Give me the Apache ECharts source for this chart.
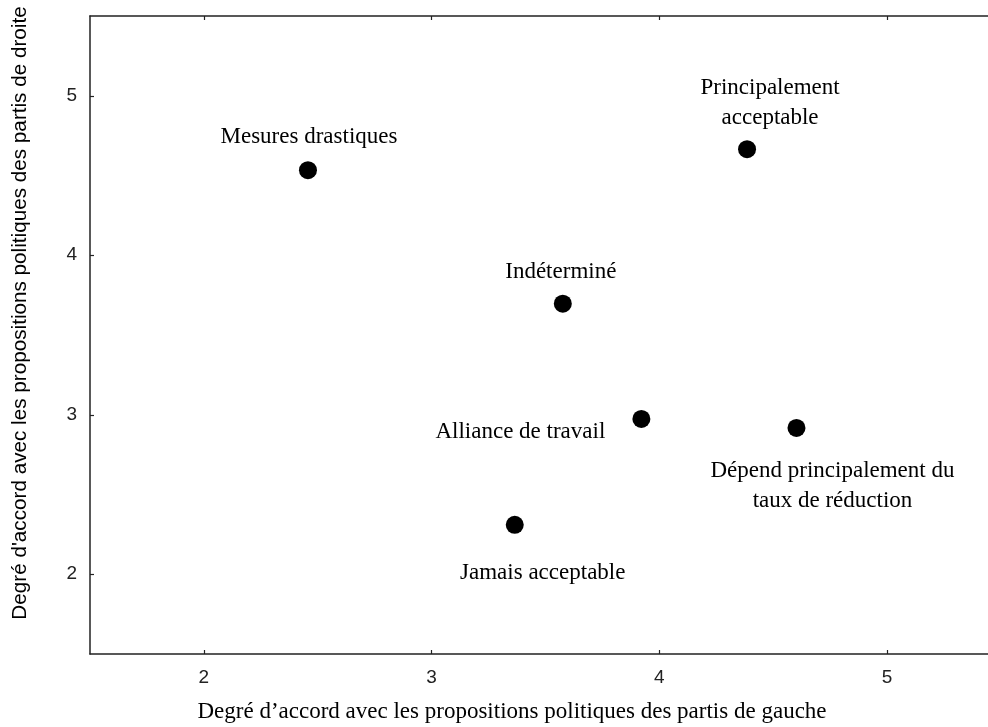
<!DOCTYPE html>
<html>
<head>
<meta charset="utf-8">
<script src="https://cdn.jsdelivr.net/npm/echarts@6/dist/echarts.min.js"></script>
<style>
html,body{margin:0;padding:0;background:#fff;}
#chart{width:988px;height:727px;}
</style>
</head>
<body>
<div id="chart"></div>
<script>
// ---- data ----
const pointNames = ["Mesures drastiques", "Principalement\nacceptable", "Indéterminé", "Alliance de travail", "Dépend principalement du\ntaux de réduction", "Jamais acceptable"];
const xValues = [2.457, 4.385, 3.576, 3.921, 4.602, 3.365];
const yValues = [4.533, 4.665, 3.696, 2.974, 2.917, 2.310];
const xTicks = [2, 3, 4, 5];
const yTicks = [2, 3, 4, 5];
const xTitle = "Degré d’accord avec les propositions politiques des partis de gauche";
const yTitle = "Degré d'accord avec les propositions politiques des partis de droite";

// ---- label layout (style) ----
const labelOffsets = [[1, -33], [23, -46], [-2, -32], [-121, 13], [36, 58], [28, 48]];

const serif = "'Liberation Serif', 'Times New Roman', serif";
const sans = "'Liberation Sans', Arial, sans-serif";

const chart = echarts.init(document.getElementById('chart'), null, {renderer: 'canvas'});

const data = pointNames.map((n, i) => ({
  name: n,
  value: [xValues[i], yValues[i]],
  label: {offset: labelOffsets[i]}
}));

const axisCommon = {
  type: 'value',
  min: 1.5,
  max: 5.5,
  splitLine: {show: false},
  axisLine: {show: true, onZero: false, lineStyle: {color: '#222', width: 1.5}},
  axisTick: {show: true, inside: true, length: 4, lineStyle: {color: '#222', width: 1.2}}
};

chart.setOption({
  animation: false,
  backgroundColor: '#fff',
  grid: {left: 90, top: 16, width: 911, height: 638, outerBoundsMode: 'none', containLabel: false},
  xAxis: [
    Object.assign({}, axisCommon, {
      position: 'bottom',
      axisTick: Object.assign({}, axisCommon.axisTick, {customValues: xTicks}),
      axisLabel: {customValues: xTicks, margin: 14, fontFamily: sans, fontSize: 19, color: '#222'}
    }),
    Object.assign({}, axisCommon, {
      position: 'top',
      axisTick: Object.assign({}, axisCommon.axisTick, {customValues: xTicks}),
      axisLabel: {show: false}
    })
  ],
  yAxis: [
    Object.assign({}, axisCommon, {
      position: 'left',
      axisTick: Object.assign({}, axisCommon.axisTick, {customValues: yTicks}),
      axisLabel: {customValues: yTicks, margin: 13, fontFamily: sans, fontSize: 19, color: '#222'}
    })
  ],
  graphic: [
    {type: 'text', x: 512, y: 712, style: {text: xTitle, align: 'center', verticalAlign: 'middle', font: "23px " + serif, fill: '#000'}},
    {type: 'text', x: 20, y: 313, rotation: Math.PI / 2, style: {text: yTitle, align: 'center', verticalAlign: 'middle', font: "20.7px " + sans, fill: '#000'}}
  ],
  series: [{
    type: 'scatter',
    xAxisIndex: 0,
    yAxisIndex: 0,
    symbol: 'circle',
    symbolSize: 18,
    itemStyle: {color: '#000', opacity: 1},
    label: {
      show: true,
      position: 'inside',
      formatter: '{b}',
      fontFamily: serif,
      fontSize: 23,
      lineHeight: 30,
      color: '#000',
      opacity: 1,
      align: 'center'
    },
    data: data
  }]
});
</script>
</body>
</html>
